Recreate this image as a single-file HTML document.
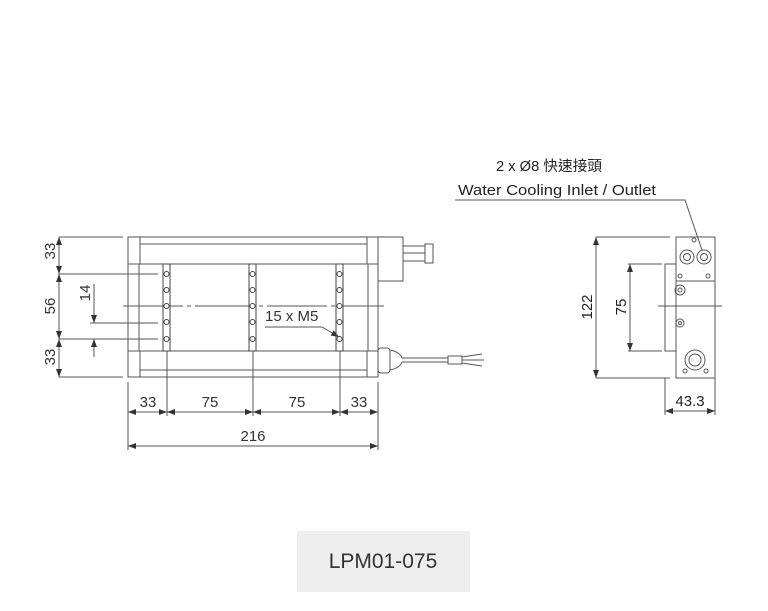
<!DOCTYPE html><html><head><style>body{margin:0;background:#fff}svg{display:block}</style></head><body>
<svg width="768" height="611" viewBox="0 0 768 611" xmlns="http://www.w3.org/2000/svg" font-family="Liberation Sans, Noto Sans CJK TC, sans-serif">
<defs><marker id="a" markerWidth="8" markerHeight="6" refX="8" refY="3" orient="auto-start-reverse" markerUnits="userSpaceOnUse"><path d="M0,0 L8,3 L0,6z" fill="#333"/></marker></defs>
<g stroke="#555" stroke-width="1" fill="none">
<rect x="128" y="237" width="250" height="140"/>
<line x1="128" y1="264" x2="378" y2="264"/><line x1="128" y1="351" x2="378" y2="351"/>
<line x1="140" y1="237" x2="140" y2="264"/><line x1="367" y1="237" x2="367" y2="264"/>
<line x1="140" y1="244" x2="367" y2="244"/>
<line x1="140" y1="351" x2="140" y2="377"/><line x1="367" y1="351" x2="367" y2="377"/>
<line x1="140" y1="370" x2="367" y2="370"/>
<line x1="139" y1="264" x2="139" y2="351"/><line x1="368" y1="264" x2="368" y2="351"/>
<rect x="378" y="237" width="25" height="44"/>
<rect x="403" y="246" width="22" height="15"/><rect x="425" y="244" width="8" height="19"/>
<line x1="403" y1="253" x2="425" y2="253"/>
<rect x="378" y="348" width="12" height="25" rx="3"/>
<path d="M390,350 Q400,352 402,358 L448,358 M390,370 Q400,368 402,362 L448,362"/>
<rect x="448" y="356" width="14" height="8"/>
<path d="M462,357 L482,354 M462,360 L484,360 M462,363 L482,366"/>
<line x1="123" y1="306" x2="384" y2="306" stroke-dasharray="60,4,4,4"/>
</g>
<g fill="#fff" stroke="#444">
<rect x="163" y="264" width="7" height="87"/><rect x="249" y="264" width="7" height="87"/><rect x="336" y="264" width="7" height="87"/>
</g>
<g fill="#fff" stroke="#444" stroke-width="1">
<circle cx="166.5" cy="274" r="2.5"/><circle cx="166.5" cy="290" r="2.5"/><circle cx="166.5" cy="306" r="2.5"/><circle cx="166.5" cy="322" r="2.5"/><circle cx="166.5" cy="339" r="2.5"/>
<circle cx="252.5" cy="274" r="2.5"/><circle cx="252.5" cy="290" r="2.5"/><circle cx="252.5" cy="306" r="2.5"/><circle cx="252.5" cy="322" r="2.5"/><circle cx="252.5" cy="339" r="2.5"/>
<circle cx="339.5" cy="274" r="2.5"/><circle cx="339.5" cy="290" r="2.5"/><circle cx="339.5" cy="306" r="2.5"/><circle cx="339.5" cy="322" r="2.5"/><circle cx="339.5" cy="339" r="2.5"/>
</g>
<g stroke="#555" fill="none">
<line x1="59" y1="237" x2="123" y2="237"/><line x1="59" y1="377" x2="123" y2="377"/>
<line x1="59" y1="274" x2="158" y2="274"/><line x1="59" y1="339" x2="158" y2="339"/><line x1="90" y1="323" x2="158" y2="323"/>
<line x1="59" y1="237" x2="59" y2="377"/>
<line x1="59" y1="245" x2="59" y2="237" marker-end="url(#a)"/><line x1="59" y1="266" x2="59" y2="274" marker-end="url(#a)"/>
<line x1="59" y1="282" x2="59" y2="274" marker-end="url(#a)"/><line x1="59" y1="331" x2="59" y2="339" marker-end="url(#a)"/>
<line x1="59" y1="347" x2="59" y2="339" marker-end="url(#a)"/><line x1="59" y1="369" x2="59" y2="377" marker-end="url(#a)"/>
<line x1="94" y1="284" x2="94" y2="323" marker-end="url(#a)"/><line x1="94" y1="357" x2="94" y2="339" marker-end="url(#a)"/>
<line x1="128" y1="382" x2="128" y2="450"/><line x1="378" y1="382" x2="378" y2="450"/>
<line x1="167" y1="351" x2="167" y2="416"/><line x1="253" y1="351" x2="253" y2="416"/><line x1="340" y1="351" x2="340" y2="416"/>
<line x1="128" y1="412" x2="378" y2="412"/>
<line x1="140" y1="412" x2="128" y2="412" marker-end="url(#a)"/><line x1="155" y1="412" x2="167" y2="412" marker-end="url(#a)"/>
<line x1="179" y1="412" x2="167" y2="412" marker-end="url(#a)"/><line x1="241" y1="412" x2="253" y2="412" marker-end="url(#a)"/>
<line x1="265" y1="412" x2="253" y2="412" marker-end="url(#a)"/><line x1="328" y1="412" x2="340" y2="412" marker-end="url(#a)"/>
<line x1="352" y1="412" x2="340" y2="412" marker-end="url(#a)"/><line x1="366" y1="412" x2="378" y2="412" marker-end="url(#a)"/>
<line x1="128" y1="446" x2="378" y2="446" marker-start="url(#a)" marker-end="url(#a)"/>
<path d="M265,327 L322,327 L339,337" marker-end="url(#a)"/>
</g>
<g fill="#333" font-size="15">
<text x="55" y="251" transform="rotate(-90 55 251)" text-anchor="middle">33</text>
<text x="55" y="306" transform="rotate(-90 55 306)" text-anchor="middle">56</text>
<text x="55" y="357" transform="rotate(-90 55 357)" text-anchor="middle">33</text>
<text x="90" y="293" transform="rotate(-90 90 293)" text-anchor="middle">14</text>
<text x="148" y="407" text-anchor="middle">33</text><text x="210" y="407" text-anchor="middle">75</text>
<text x="297" y="407" text-anchor="middle">75</text><text x="359" y="407" text-anchor="middle">33</text>
<text x="253" y="441" text-anchor="middle">216</text>
<text x="265" y="321">15 x M5</text>
</g>
<g stroke="#555" fill="none">
<rect x="676" y="237" width="39" height="141"/>
<rect x="665" y="264" width="11" height="87"/>
<line x1="676" y1="281" x2="715" y2="281"/>
<circle cx="687" cy="257" r="7"/><circle cx="687" cy="257" r="3.5"/>
<circle cx="704" cy="257" r="7"/><circle cx="704" cy="257" r="3.5"/>
<circle cx="694" cy="240" r="2"/><circle cx="680" cy="276" r="2"/><circle cx="708" cy="276" r="2"/>
<circle cx="680" cy="290" r="5"/><circle cx="680" cy="290" r="2"/>
<circle cx="680" cy="323" r="4"/><circle cx="680" cy="323" r="1.5"/>
<circle cx="695" cy="360" r="10"/><circle cx="695" cy="360" r="6"/>
<circle cx="685" cy="371" r="2"/><circle cx="706" cy="371" r="2"/>
<line x1="658" y1="306" x2="722" y2="306"/>
<line x1="596" y1="237" x2="670" y2="237"/><line x1="596" y1="378" x2="670" y2="378"/>
<line x1="596" y1="237" x2="596" y2="378" marker-start="url(#a)" marker-end="url(#a)"/>
<line x1="628" y1="264" x2="662" y2="264"/><line x1="628" y1="351" x2="662" y2="351"/>
<line x1="630" y1="264" x2="630" y2="351" marker-start="url(#a)" marker-end="url(#a)"/>
<line x1="665" y1="378" x2="665" y2="415"/><line x1="715" y1="378" x2="715" y2="415"/>
<line x1="665" y1="411" x2="715" y2="411" marker-start="url(#a)" marker-end="url(#a)"/>
<path d="M455,200 L685,200 L702,250"/>
</g>
<g fill="#222" font-size="15">
<text x="592" y="307" transform="rotate(-90 592 307)" text-anchor="middle">122</text>
<text x="626" y="307" transform="rotate(-90 626 307)" text-anchor="middle">75</text>
<text x="690" y="406" text-anchor="middle">43.3</text>
<text x="496" y="171" font-size="14.5" textLength="106" lengthAdjust="spacingAndGlyphs">2 x Ø8 快速接頭</text>
<text x="458" y="195" font-size="15" textLength="198" lengthAdjust="spacingAndGlyphs">Water Cooling Inlet / Outlet</text>
</g>
<rect x="297" y="531" width="173" height="61" fill="#eeeeee"/>
<text x="383" y="568" text-anchor="middle" font-size="21" fill="#333">LPM01-075</text>
</svg></body></html>
